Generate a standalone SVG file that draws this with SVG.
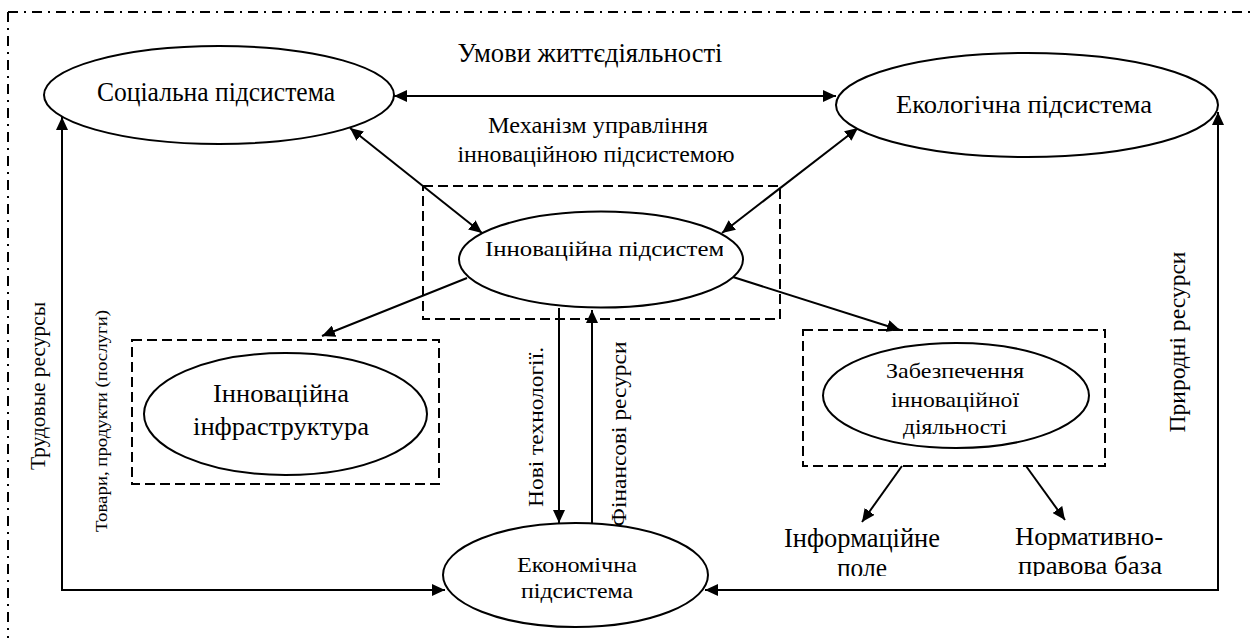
<svg xmlns="http://www.w3.org/2000/svg" width="1251" height="638" viewBox="0 0 1251 638">
<defs>
<marker id="ah" viewBox="0 0 13 12" refX="13" refY="6" markerWidth="13" markerHeight="12" markerUnits="userSpaceOnUse" orient="auto-start-reverse"><path d="M0,0 L13,6 L0,12 z" fill="#000"/></marker>
<clipPath id="clipInn"><rect x="440" y="200" width="283" height="100"/></clipPath>
<clipPath id="clipBot"><rect x="760" y="520" width="450" height="56"/></clipPath>
</defs>
<rect width="1251" height="638" fill="#fff"/>
<path d="M8,12 L1251,12 M8,12 L8,638" fill="none" stroke="#000" stroke-width="2" stroke-dasharray="10 6 2 6"/>

<g id="connectors" fill="none" stroke="#000" stroke-width="2">
<line x1="394" y1="96" x2="836" y2="96" marker-start="url(#ah)" marker-end="url(#ah)"/>
<line x1="350" y1="128" x2="482" y2="233" marker-start="url(#ah)" marker-end="url(#ah)"/>
<line x1="858" y1="128" x2="722" y2="233" marker-start="url(#ah)" marker-end="url(#ah)"/>
<line x1="467" y1="278" x2="322" y2="336" marker-end="url(#ah)"/>
<line x1="733" y1="277" x2="900" y2="330" marker-end="url(#ah)"/>
<line x1="902" y1="466" x2="862" y2="522" marker-end="url(#ah)"/>
<line x1="1026" y1="466" x2="1065" y2="520" marker-end="url(#ah)"/>
<path d="M62,117 L62,590 L445,590" marker-start="url(#ah)" marker-end="url(#ah)"/>
<path d="M705,590 L1218,590 L1218,112" marker-start="url(#ah)" marker-end="url(#ah)"/>
<line x1="559" y1="308" x2="559" y2="523" marker-end="url(#ah)"/>
<line x1="592" y1="523" x2="592" y2="310" marker-end="url(#ah)"/>
</g>

<g id="labels" font-family="Liberation Serif" fill="#000" text-anchor="middle">
<text x="590" y="62" font-family="Liberation Serif" font-size="27" textLength="265" lengthAdjust="spacingAndGlyphs">Умови життєдіяльності</text>
<text x="598" y="133" font-family="Liberation Serif" font-size="23" textLength="220" lengthAdjust="spacingAndGlyphs">Механізм управління</text>
<text x="596" y="162" font-family="Liberation Serif" font-size="23" textLength="277" lengthAdjust="spacingAndGlyphs">інноваційною підсистемою</text>
<text font-family="Liberation Serif" font-size="22" transform="translate(45,386) rotate(-90)" textLength="168" lengthAdjust="spacingAndGlyphs">Трудовые ресурсы</text>
<text font-family="Liberation Serif" font-size="17" transform="translate(107,421) rotate(-90)" textLength="222" lengthAdjust="spacingAndGlyphs">Товари, продукти (послуги)</text>
<text font-family="Liberation Serif" font-size="22" transform="translate(543,427) rotate(-90)" textLength="160" lengthAdjust="spacingAndGlyphs">Нові технології.</text>
<text font-family="Liberation Serif" font-size="22" transform="translate(626,434) rotate(-90)" textLength="185" lengthAdjust="spacingAndGlyphs">Фінансові ресурси</text>
<text font-family="Liberation Serif" font-size="23" transform="translate(1185,342) rotate(-90)" textLength="181" lengthAdjust="spacingAndGlyphs">Природні ресурси</text>
<g clip-path="url(#clipBot)">
<text x="862" y="547" font-family="Liberation Serif" font-size="27" textLength="156" lengthAdjust="spacingAndGlyphs">Інформаційне</text>
<text x="862" y="577" font-family="Liberation Serif" font-size="27" textLength="50" lengthAdjust="spacingAndGlyphs">поле</text>
<text x="1089" y="545" font-family="Liberation Serif" font-size="26" textLength="148" lengthAdjust="spacingAndGlyphs">Нормативно-</text>
<text x="1090" y="574" font-family="Liberation Serif" font-size="26" textLength="144" lengthAdjust="spacingAndGlyphs">правова база</text>
</g>
</g>

<g id="social">
<ellipse cx="219" cy="95" rx="175" ry="49" fill="#fff" stroke="#000" stroke-width="2"/>
<text x="216" y="101" font-family="Liberation Serif" font-size="27" text-anchor="middle" textLength="238" lengthAdjust="spacingAndGlyphs">Соціальна підсистема</text>
</g>
<g id="ecological">
<ellipse cx="1027" cy="105" rx="191" ry="52" fill="#fff" stroke="#000" stroke-width="2"/>
<text x="1024" y="113" font-family="Liberation Serif" font-size="25" text-anchor="middle" textLength="256" lengthAdjust="spacingAndGlyphs">Екологічна підсистема</text>
</g>
<g id="innovation">
<rect x="423" y="186" width="357" height="133" fill="none" stroke="#000" stroke-width="2" stroke-dasharray="10 5"/>
<ellipse cx="601" cy="259.5" rx="142" ry="48" fill="#fff" stroke="#000" stroke-width="2"/>
<text x="485" y="256" font-family="Liberation Serif" font-size="22" clip-path="url(#clipInn)" textLength="250" lengthAdjust="spacingAndGlyphs">Інноваційна підсистема</text>
</g>
<g id="infrastructure">
<rect x="132" y="340" width="307" height="144" fill="none" stroke="#000" stroke-width="2" stroke-dasharray="10 5"/>
<ellipse cx="285.5" cy="414" rx="141.5" ry="61" fill="#fff" stroke="#000" stroke-width="2"/>
<text x="281" y="402" font-family="Liberation Serif" font-size="26" text-anchor="middle" textLength="136" lengthAdjust="spacingAndGlyphs">Інноваційна</text>
<text x="281" y="435" font-family="Liberation Serif" font-size="26" text-anchor="middle" textLength="176" lengthAdjust="spacingAndGlyphs">інфраструктура</text>
</g>
<g id="support">
<rect x="803" y="330" width="302" height="136" fill="none" stroke="#000" stroke-width="2" stroke-dasharray="10 5"/>
<ellipse cx="956" cy="395.5" rx="133" ry="52.5" fill="#fff" stroke="#000" stroke-width="2"/>
<text x="955" y="378" font-family="Liberation Serif" font-size="22" text-anchor="middle" textLength="138" lengthAdjust="spacingAndGlyphs">Забезпечення</text>
<text x="955" y="407" font-family="Liberation Serif" font-size="22" text-anchor="middle" textLength="128" lengthAdjust="spacingAndGlyphs">інноваційної</text>
<text x="955" y="434" font-family="Liberation Serif" font-size="22" text-anchor="middle" textLength="104" lengthAdjust="spacingAndGlyphs">діяльності</text>
</g>
<g id="economic">
<ellipse cx="575.5" cy="575" rx="132.5" ry="52" fill="#fff" stroke="#000" stroke-width="2"/>
<text x="577" y="572" font-family="Liberation Serif" font-size="22" text-anchor="middle" textLength="120" lengthAdjust="spacingAndGlyphs">Економічна</text>
<text x="577" y="598" font-family="Liberation Serif" font-size="22" text-anchor="middle" textLength="112" lengthAdjust="spacingAndGlyphs">підсистема</text>
</g>
</svg>
